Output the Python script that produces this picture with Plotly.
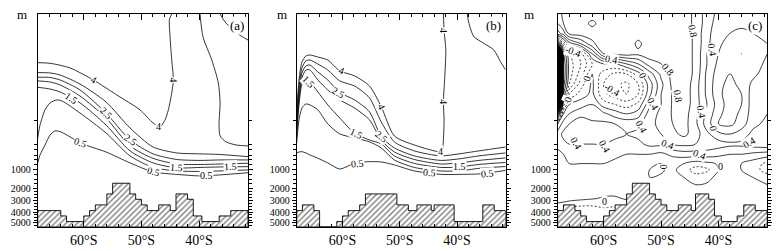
import numpy as np
import plotly.graph_objects as go

FONT = "Liberation Serif"

# ---- vertical axis: stretched depth (m -> axis units) ----
depth_knots = [0, 1000, 2000, 3000, 4000, 5000, 6000]
axis_knots = [0, 1000, 1117, 1199, 1271, 1338, 1405]


def zc(d):
    return np.interp(np.asarray(d, dtype=float), depth_knots, axis_knots)


BOTTOM = 5400
lat_ticks = [-60, -50, -40]
lat_labels = ["60°S", "50°S", "40°S"]
depth_ticks = [1000, 2000, 3000, 4000, 5000]
depth_minor = [680, 840, 870, 905, 935, 965, 1250, 1500, 1750, 2250, 2500, 2750,
               3250, 3500, 3750, 4250, 4500, 4750, 5250]

# ---- topography (cell edges in latitude, bottom depth in m) ----
topo_a_edges = [-68, -64, -63, -60, -59, -58, -56, -55, -52, -51, -50, -49, -47, -45, -44, -42, -41, -39.5, -36.5, -34.5, -31.5]
topo_a_depth = [3860, 4360, 4900, 4360, 3860, 3350, 2450, 1730, 2450, 2870, 3350, 3860, 3350, 3860, 2450, 2870, 4360, 4900, 4360, 3860]
topo_b_edges = [-68, -67, -65, -64, -61, -60, -59, -57, -56, -50.5, -48.5, -47, -44.5, -44, -40.5, -35.5, -33.5, -31.5]
topo_b_depth = [3860, 3350, 3860, 5400, 4900, 4360, 3860, 3350, 2450, 3350, 3860, 3350, 3860, 3350, 4900, 3350, 3860]
topo_c_edges = [-68, -67, -65, -64, -63, -60, -59, -58, -56, -55, -52, -51, -50, -49, -47, -44.75, -44, -41.7, -40.7, -39.5, -36.75, -35.6, -33.6, -31.5]
topo_c_depth = [3860, 3350, 3860, 4360, 4900, 4360, 3860, 3350, 2450, 1730, 2450, 2870, 3350, 3860, 3350, 3860, 2450, 2870, 4360, 4900, 4360, 3350, 3860]

# ---- panel (a) contour lines (lat, depth m) ----
a_lat_4 = [-68.0, -65.86, -62.39, -58.35, -54.29, -50.25, -47.98, -46.77, -45.90, -45.33, -44.74, -44.46, -44.74, -45.03, -45.15, -44.74]
a_dep_4 = [312, 316, 346, 423, 519, 615, 699, 724, 679, 615, 506, 423, 295, 146, 38, 0]
a_lat_4b = [-39.83, -39.31, -37.79, -36.65, -36.35, -36.53, -36.35, -35.31, -33.57, -31.5]
a_dep_4b = [0, 147, 295, 442, 570, 712, 782, 820, 840, 846]
a_lat_tr = [-36.35, -35.48, -34.09, -32.70, -31.5]
a_dep_tr = [0, 51, 103, 141, 167]
a_lat_band = [-68.0, -65.86, -64.13, -60.66, -56.14, -51.98, -47.98, -43.87, -39.83, -36.35, -31.5]
a_dep_3 = [376, 378, 391, 449, 564, 731, 853, 891, 897, 901, 915]
a_dep_25 = [406, 407, 423, 487, 635, 808, 897, 933, 939, 936, 936]
a_dep_2 = [429, 436, 455, 526, 667, 846, 926, 962, 965, 962, 957]
a_dep_15 = [470, 481, 500, 570, 712, 878, 955, 987, 984, 981, 979]
a_lat_1 = [-68.0, -67.60, -66.73, -65.86, -64.70, -63.78, -60.66, -56.14, -51.98, -47.98, -43.87, -39.83, -36.35, -31.5]
a_dep_1 = [795, 712, 615, 570, 551, 558, 635, 763, 910, 984, 1055, 1082, 1055, 1000]
a_lat_05 = [-68.0, -67.60, -66.73, -65.86, -65.0, -64.13, -62.39, -60.66, -56.14, -51.98, -47.98, -43.87, -39.83, -36.35, -31.5]
a_dep_05 = [955, 904, 840, 776, 750, 754, 788, 827, 885, 955, 1109, 1246, 1328, 1273, 1153]
a_labels = [("4", -58.35, 423, 30), ("4", -47.06, 722, 0), ("4", -44.46, 423, 90),
            ("1.5", -62.10, 541, 35), ("2.5", -56.02, 635, 45), ("2.5", -51.98, 808, 35),
            ("0.5", -60.66, 827, 20), ("0.5", -47.98, 1109, 15), ("1.5", -43.87, 987, 5),
            ("0.5", -38.67, 1320, 0), ("1.5", -34.62, 981, -3)]

# ---- panel (b) contour lines ----
b_lat = [-68.0, -67.60, -67.08, -66.39, -65.69, -64.30, -62.57, -60.48, -57.88, -55.28, -53.24, -50.94, -47.46, -42.83, -39.65, -36.18, -31.5]
b_lat_4 = [-68.0, -67.60, -67.08, -66.39, -65.69, -64.30, -62.57, -60.48, -57.88, -55.28, -53.24, -50.94, -47.46, -42.83, -42.52, -42.38, -42.26, -42.38, -42.13, -41.96, -42.26, -42.38]
b_dep_4 = [628, 423, 308, 269, 263, 276, 295, 365, 397, 462, 594, 782, 840, 883, 865, 808, 679, 562, 402, 231, 103, 0]
b_dep_3 = [667, 474, 346, 301, 295, 321, 359, 429, 462, 538, 692, 820, 878, 910, 897, 878, 853]
b_dep_25 = [705, 519, 378, 333, 327, 372, 423, 504, 551, 628, 786, 859, 910, 939, 929, 910, 891]
b_dep_2 = [744, 551, 410, 359, 359, 423, 487, 551, 603, 679, 808, 885, 933, 962, 955, 939, 923]
b_dep_15 = [782, 583, 449, 410, 434, 500, 583, 667, 765, 808, 833, 910, 958, 984, 981, 965, 952]
b_dep_1 = [827, 679, 603, 577, 583, 615, 705, 769, 795, 820, 859, 936, 984, 1055, 1055, 990, 978]
b_dep_05 = [891, 885, 883, 891, 904, 925, 955, 994, 957, 947, 949, 968, 1055, 1246, 1246, 1218, 1027]
b_lat_tr = [-38.21, -37.92, -37.05, -35.31, -33.57, -32.41, -31.5]
b_dep_tr = [0, 60, 146, 188, 231, 306, 359]
b_labels = [("4", -60.19, 365, 20), ("4", -53.24, 594, 65), ("4", -42.83, 883, 0),
            ("4", -42.38, 562, 90), ("4", -42.26, 103, 90), ("1.5", -65.99, 434, 45),
            ("2.5", -60.78, 504, 30), ("1.5", -57.58, 765, 25), ("2.5", -53.24, 786, 40),
            ("0.5", -57.30, 957, -5), ("1.5", -39.65, 981, 0), ("0.5", -44.86, 1165, 5),
            ("0.5", -34.74, 1218, -5)]

# ---- panel (c) difference field on a grid ----
c_lat = [-68, -67, -66, -64, -62, -60, -58, -56, -54, -52, -50, -48, -46, -44, -42, -40, -38, -36, -34, -31.5]
c_depth = [0, 60, 125, 190, 255, 320, 385, 450, 515, 580, 640, 705, 770, 835, 900, 960, 1000, 1400, 2000, 2800, 3600, 4400, 5400]
c_rows = [
    [0.7, 0.85, 0.9, 0.9, 0.9, 0.9, 0.9, 0.9, 0.9, 0.9, 0.9, 0.9, 0.9, 0.75, 0.5, 0.35, 0.3, 0.3, 0.3, 0.35],
    [0.6, 0.8, 0.9, 0.9, 1.05, 0.9, 0.9, 0.9, 0.9, 0.9, 0.9, 0.9, 0.9, 0.75, 0.5, 0.3, 0.25, 0.25, 0.3, 0.3],
    [0.3, 0.5, 0.85, 0.9, 0.9, 0.9, 0.9, 0.9, 0.9, 0.9, 0.9, 0.92, 0.92, 0.75, 0.45, 0.3, 0.2, 0.15, 0.2, 0.3],
    [-1.6, -0.4, 0.1, 0.4, 0.75, 0.95, 0.95, 0.95, 0.75, 0.92, 0.92, 0.93, 0.93, 0.75, 0.45, 0.25, 0.1, 0.05, 0.1, 0.2],
    [-6.0, -1.4, -0.8, -0.5, 0.2, 0.8, 0.85, 0.9, 0.85, 0.92, 0.92, 0.93, 0.93, 0.75, 0.4, 0.2, 0.05, 0.0, 0.05, 0.2],
    [-6.5, -1.6, -0.9, -0.6, -0.2, 0.0, 0.0, 0.2, 0.4, 0.7, 0.8, 0.9, 0.93, 0.75, 0.4, 0.15, 0.05, 0.05, 0.1, 0.25],
    [-6.5, -1.6, -0.9, -0.5, 0.0, -0.3, -0.45, -0.4, -0.1, 0.3, 0.65, 0.88, 0.93, 0.75, 0.35, 0.1, 0.0, 0.05, 0.15, 0.3],
    [-6.5, -1.5, -0.8, -0.3, 0.05, -0.4, -0.55, -0.65, -0.4, 0.1, 0.55, 0.85, 0.93, 0.7, 0.35, 0.05, -0.05, 0.05, 0.25, 0.35],
    [-6.0, -1.2, -0.4, -0.1, 0.05, -0.35, -0.5, -0.6, -0.4, 0.15, 0.6, 0.82, 0.92, 0.7, 0.35, 0.05, -0.1, 0.0, 0.3, 0.4],
    [-4.5, -0.5, 0.0, 0.1, 0.2, -0.1, -0.2, -0.3, -0.15, 0.35, 0.6, 0.82, 0.92, 0.7, 0.4, 0.1, -0.1, 0.0, 0.3, 0.4],
    [-1.6, 0.0, 0.2, 0.35, 0.3, 0.25, 0.1, 0.0, 0.1, 0.5, 0.65, 0.82, 0.9, 0.65, 0.35, 0.05, -0.1, 0.05, 0.3, 0.4],
    [0.0, 0.3, 0.4, 0.5, 0.45, 0.45, 0.4, 0.35, 0.35, 0.55, 0.65, 0.8, 0.88, 0.65, 0.3, 0.0, -0.05, 0.1, 0.35, 0.45],
    [0.3, 0.45, 0.5, 0.5, 0.5, 0.5, 0.45, 0.4, 0.45, 0.55, 0.6, 0.75, 0.85, 0.7, 0.45, 0.25, 0.2, 0.3, 0.45, 0.5],
    [0.25, 0.35, 0.4, 0.4, 0.4, 0.4, 0.35, 0.3, 0.35, 0.45, 0.45, 0.6, 0.65, 0.6, 0.55, 0.5, 0.45, 0.45, 0.5, 0.55],
    [0.15, 0.2, 0.25, 0.3, 0.3, 0.3, 0.25, 0.2, 0.2, 0.2, 0.15, 0.25, 0.3, 0.3, 0.3, 0.25, 0.2, 0.2, 0.15, 0.1],
    [0.1, 0.15, 0.2, 0.2, 0.2, 0.2, 0.15, 0.15, 0.1, 0.05, 0.0, 0.05, 0.0, -0.1, -0.05, 0.02, 0.05, 0.0, -0.1, -0.25],
    [0.1, 0.1, 0.15, 0.15, 0.15, 0.15, 0.1, 0.1, 0.05, 0.0, -0.02, 0.05, -0.1, -0.3, -0.25, 0.0, 0.05, 0.0, -0.1, -0.3],
    [0.1, 0.1, 0.1, 0.1, 0.1, 0.1, 0.1, 0.05, 0.05, 0.0, 0.02, 0.05, 0.0, -0.1, -0.05, 0.05, 0.05, 0.05, 0.0, -0.1],
    [0.1, 0.1, 0.1, 0.1, 0.1, 0.1, 0.08, 0.05, 0.05, 0.02, 0.05, 0.05, 0.05, 0.05, 0.05, 0.05, 0.05, 0.05, 0.05, 0.05],
    [0.1, 0.1, 0.08, 0.05, 0.02, -0.02, -0.02, 0.02, 0.05, 0.05, 0.05, 0.05, 0.05, 0.05, 0.05, 0.05, 0.05, 0.05, 0.05, 0.05],
    [-0.1, -0.15, -0.2, -0.25, -0.25, -0.2, -0.2, -0.1, 0.0, 0.05, 0.05, 0.05, 0.05, 0.05, 0.05, 0.05, 0.05, 0.05, 0.05, 0.05],
    [-0.2, -0.25, -0.3, -0.3, -0.3, -0.3, -0.2, -0.1, 0.0, 0.05, 0.05, 0.05, 0.05, 0.05, 0.05, 0.05, 0.05, 0.05, 0.05, 0.05],
    [-0.2, -0.25, -0.3, -0.3, -0.3, -0.3, -0.2, -0.1, 0.0, 0.05, 0.05, 0.05, 0.05, 0.05, 0.05, 0.05, 0.05, 0.05, 0.05, 0.05],
]
c_labels = [("-0.4", -65.29, 242, 20), ("0.4", -58.63, 290, 10), ("0", -62.97, 412, -70),
            ("0", -66.2, 551, -70), ("-0.4", -58.63, 487, 30), ("0", -53.2, 395, 60),
            ("0.8", -48.84, 359, 50), ("0.4", -51.4, 572, 60), ("0.8", -47.06, 530, 80),
            ("0.8", -44.46, 113, 80), ("0.4", -40.99, 231, 80), ("0.4", -43.0, 626, 80),
            ("0", -40.87, 733, 80), ("0.4", -53.42, 722, 60), ("0.4", -48.8, 840, 20),
            ("0.4", -43.3, 904, 20), ("0.4", -34.62, 827, -30), ("0", -49.72, 981, 90),
            ("0", -39.65, 981, 0), ("0.4", -64.7, 829, 60), ("0.4", -59.79, 851, 60),
            ("0", -59.79, 3062, 0)]

# ---- layout geometry (page body adds an 8 px offset) ----
W, H = 774, 243
x_domains = [[0.0384, 0.3101], [0.3730, 0.6430], [0.7102, 0.9810]]
y_domain = [0.1000, 0.9753]
m_x = [13.7 / W, 273.7 / W, 521 / W]
m_y = 1 - 7 / H
tag_x = [229 / W, 485 / W, 747 / W]
tag_y = 1 - 17 / H
tags = ["(a)", "(b)", "(c)"]
AX = [("x", "y"), ("x2", "y2"), ("x3", "y3")]

fig = go.Figure()


def add_line(lats, deps, ax, dash=None):
    fig.add_trace(go.Scatter(
        x=lats, y=zc(deps), mode="lines",
        line=dict(color="black", width=0.8, shape="spline", smoothing=0.7, dash=dash),
        xaxis=ax[0], yaxis=ax[1], hoverinfo="skip", showlegend=False))


def add_topo(edges, deps, ax):
    xs, ys = [], []
    for i, d in enumerate(deps):
        xs += [edges[i], edges[i + 1]]
        ys += [d, d]
    xs += [edges[-1], edges[0], edges[0]]
    ys += [BOTTOM, BOTTOM, deps[0]]
    fig.add_trace(go.Scatter(
        x=xs, y=zc(ys), mode="lines", fill="toself", fillcolor="white",
        fillpattern=dict(shape="/", size=4, solidity=0.35, fgcolor="black", bgcolor="white"),
        line=dict(color="black", width=0.9),
        xaxis=ax[0], yaxis=ax[1], hoverinfo="skip", showlegend=False))


# panel (c) contours (drawn first, underneath)
common = dict(x=c_lat, y=zc(c_depth), z=np.array(c_rows), xaxis="x3", yaxis="y3",
              showscale=False, colorscale=[[0, "black"], [1, "black"]], hoverinfo="skip")
fig.add_trace(go.Contour(**common, contours=dict(coloring="lines", start=0.001, end=1.201, size=0.2),
                         line=dict(width=0.75, smoothing=1.0)))
fig.add_trace(go.Contour(**common, contours=dict(coloring="lines", start=-0.799, end=-0.199, size=0.2),
                         line=dict(width=0.75, smoothing=1.0, dash="2px,2px")))
fig.add_trace(go.Contour(**common, contours=dict(coloring="lines", start=-6.999, end=-0.999, size=0.2),
                         line=dict(width=0.8, smoothing=1.0)))

# panel (a)
for lats, deps in [(a_lat_4, a_dep_4), (a_lat_4b, a_dep_4b), (a_lat_tr, a_dep_tr),
                   (a_lat_band, a_dep_3), (a_lat_band, a_dep_25), (a_lat_band, a_dep_2),
                   (a_lat_band, a_dep_15), (a_lat_1, a_dep_1), (a_lat_05, a_dep_05)]:
    add_line(lats, deps, AX[0])
# panel (b)
add_line(b_lat_4, b_dep_4, AX[1])
add_line(b_lat_tr, b_dep_tr, AX[1])
for deps in [b_dep_3, b_dep_25, b_dep_2, b_dep_15, b_dep_1, b_dep_05]:
    add_line(b_lat, deps, AX[1])

add_topo(topo_a_edges, topo_a_depth, AX[0])
add_topo(topo_b_edges, topo_b_depth, AX[1])
add_topo(topo_c_edges, topo_c_depth, AX[2])

annotations = []
for labels, ax in [(a_labels, AX[0]), (b_labels, AX[1]), (c_labels, AX[2])]:
    for txt, la, de, ang in labels:
        annotations.append(dict(x=la, y=float(zc(de)), xref=ax[0], yref=ax[1], text=txt,
                                textangle=ang, showarrow=False, bgcolor="white", borderpad=0,
                                font=dict(family=FONT, size=10, color="black")))
for i in range(3):
    annotations.append(dict(x=m_x[i], y=m_y, xref="paper", yref="paper", text="m",
                            showarrow=False, xanchor="center", yanchor="middle",
                            font=dict(family=FONT, size=13, color="black")))
    annotations.append(dict(x=tag_x[i], y=tag_y, xref="paper", yref="paper", text=tags[i],
                            showarrow=False, xanchor="center", yanchor="middle", bgcolor="white",
                            font=dict(family=FONT, size=13, color="black")))

layout = dict(width=W, height=H, margin=dict(l=0, r=0, t=0, b=0),
              paper_bgcolor="white", plot_bgcolor="white", showlegend=False,
              annotations=annotations)
for i in range(3):
    sx = "" if i == 0 else str(i + 1)
    layout["xaxis" + sx] = dict(
        domain=x_domains[i], range=[-68, -31.5], anchor="y" + sx,
        tickmode="array", tickvals=lat_ticks, ticktext=lat_labels,
        ticks="inside", ticklen=6, tickwidth=1, tickcolor="black",
        showline=True, linecolor="black", linewidth=1, mirror="ticks",
        showgrid=False, zeroline=False,
        tickfont=dict(family=FONT, size=14, color="black"),
        minor=dict(tickmode="linear", tick0=0, dtick=2, ticks="inside", ticklen=3,
                   tickwidth=1, tickcolor="black", showgrid=False))
    layout["yaxis" + sx] = dict(
        domain=y_domain, range=[float(zc(5390)), 0], anchor="x" + sx,
        tickmode="array", tickvals=list(zc(depth_ticks)), ticktext=[str(d) for d in depth_ticks],
        ticks="outside", ticklen=4, tickwidth=1, tickcolor="black",
        showline=True, linecolor="black", linewidth=1, mirror="ticks",
        showgrid=False, zeroline=False,
        tickfont=dict(family=FONT, size=10, color="black"),
        minor=dict(tickmode="array", tickvals=list(zc(depth_minor)), ticks="outside", ticklen=2.5,
                   tickwidth=1, tickcolor="black", showgrid=False))

fig.update_layout(**layout)
fig.write_html("out.html")
